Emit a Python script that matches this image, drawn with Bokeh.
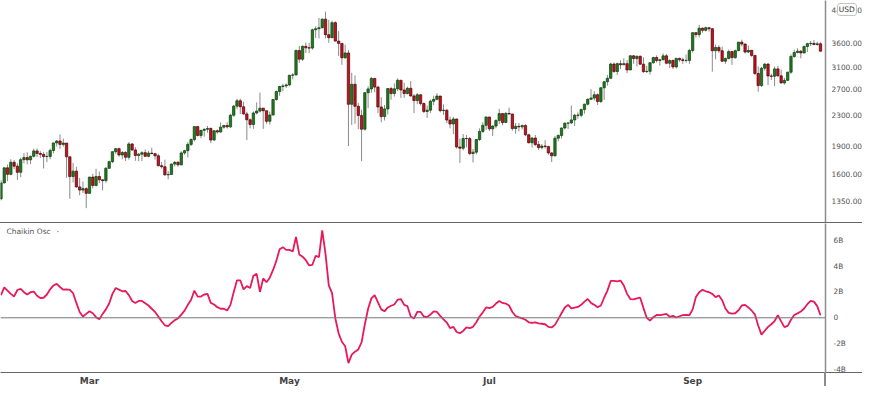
import pandas as pd
from bokeh.plotting import figure
from bokeh.layouts import column
from bokeh.models import (ColumnDataSource, FixedTicker, Span, Label, Div, Range1d,
                          PrintfTickFormatter, DatetimeTickFormatter)
from bokeh.embed import file_html
from bokeh.resources import INLINE

# ---------------- data (daily, 2021-02-02 .. 2021-10-10) ----------------
start_date = "2021-02-02"

open_ = [
    # Feb
    1369, 1512, 1660, 1594, 1718, 1677, 1614, 1746, 1768, 1744, 1783, 1843, 1814, 1804, 1779, 1781, 1848, 1937, 1960, 1919, 1935, 1777, 1572, 1626, 1475, 1446, 1459,
    # Mar
    1417, 1567, 1488, 1573, 1541, 1533, 1655, 1724, 1834, 1869, 1797, 1826, 1772, 1924, 1854, 1792, 1806, 1823, 1782, 1818, 1812, 1788, 1682, 1671, 1589, 1593, 1699, 1717, 1691, 1820, 1846,
    # Apr
    1919, 1977, 2143, 2028, 2093, 2107, 2118, 1971, 2088, 2072, 2135, 2157, 2139, 2299, 2432, 2514, 2422, 2317, 2235, 2171, 2331, 2358, 2402, 2363, 2214, 2302, 2534, 2662, 2746, 2757,
    # May
    2773, 2945, 2950, 3431, 3253, 3522, 3490, 3484, 3902, 3928, 3953, 4168, 3785, 3715, 4079, 3638, 3587, 3282, 3380, 2460, 2784, 2430, 2296, 2109, 2643, 2706, 2888, 2736, 2419, 2279, 2390,
    # Jun
    2711, 2629, 2707, 2855, 2688, 2630, 2716, 2590, 2517, 2609, 2471, 2353, 2372, 2508, 2537, 2589, 2365, 2372, 2231, 2178, 2246, 1888, 1874, 1990, 1989, 1813, 1829, 1978, 2080, 2160,
    # Jul
    2274, 2113, 2150, 2226, 2322, 2198, 2324, 2316, 2117, 2147, 2139, 2156, 2036, 1939, 1995, 1917, 1881, 1899, 1895, 1820, 1788, 1994, 2028, 2124, 2188, 2191, 2233, 2299, 2298, 2380, 2461,
    # Aug
    2537, 2557, 2610, 2502, 2724, 2828, 2890, 3157, 3013, 3164, 3141, 3164, 3043, 3322, 3265, 3310, 3154, 3011, 3017, 3183, 3287, 3225, 3241, 3320, 3172, 3225, 3101, 3268, 3240, 3227, 3228,
    # Sep
    3433, 3834, 3788, 3941, 3889, 3952, 3928, 3427, 3497, 3427, 3212, 3266, 3409, 3285, 3429, 3615, 3571, 3399, 3435, 3330, 2977, 2762, 3076, 3156, 2931, 2926, 3063, 2934, 2807, 2853,
    # Oct
    3001, 3308, 3390, 3419, 3381, 3518, 3581, 3588, 3560, 3578,
]

high = [
    1540, 1664, 1693, 1751, 1741, 1706, 1767, 1818, 1827, 1789, 1870, 1872, 1840, 1829, 1830, 1870, 1939, 1970, 2042, 1990, 1935, 1777, 1711, 1671, 1559, 1525, 1472,
    1570, 1600, 1650, 1622, 1548, 1668, 1735, 1840, 1877, 1881, 1840, 1840, 1946, 1934, 1887, 1820, 1840, 1860, 1843, 1880, 1822, 1811, 1720, 1746, 1626, 1703, 1732, 1732, 1838, 1856, 1947,
    1992, 2145, 2146, 2100, 2120, 2150, 2132, 2096, 2105, 2198, 2166, 2201, 2318, 2449, 2545, 2547, 2497, 2348, 2255, 2354, 2489, 2644, 2402, 2363, 2350, 2537, 2679, 2759, 2797, 2797,
    2950, 2985, 3455, 3531, 3541, 3605, 3600, 3930, 3985, 4200, 4185, 4365, 4150, 4130, 4115, 3870, 3587, 3560, 3440, 2990, 2940, 2480, 2380, 2650, 2750, 2910, 2890, 2760, 2570, 2450, 2720,
    2740, 2800, 2890, 2860, 2810, 2745, 2840, 2620, 2640, 2620, 2490, 2440, 2530, 2595, 2635, 2590, 2460, 2385, 2280, 2275, 2250, 1990, 2045, 2035, 2010, 1865, 1985, 2120, 2200, 2280,
    2274, 2160, 2240, 2390, 2322, 2345, 2410, 2320, 2190, 2190, 2170, 2175, 2050, 2010, 2035, 1960, 1925, 1970, 1895, 1830, 2020, 2040, 2130, 2200, 2200, 2440, 2318, 2340, 2395, 2470, 2550,
    2700, 2665, 2630, 2740, 2840, 2950, 3180, 3185, 3185, 3230, 3270, 3235, 3330, 3330, 3330, 3330, 3290, 3120, 3190, 3300, 3330, 3260, 3370, 3360, 3250, 3250, 3280, 3285, 3285, 3350, 3470,
    3840, 3840, 4025, 3960, 3980, 3970, 3945, 3560, 3545, 3515, 3290, 3450, 3420, 3450, 3620, 3670, 3590, 3540, 3445, 3330, 3110, 3100, 3170, 3170, 2970, 3110, 3120, 3050, 2900, 3010,
    3350, 3450, 3480, 3440, 3540, 3600, 3640, 3660, 3620, 3610,
]

low = [
    1356, 1506, 1528, 1584, 1647, 1540, 1566, 1707, 1696, 1700, 1769, 1774, 1763, 1653, 1719, 1750, 1816, 1893, 1865, 1891, 1560, 1370, 1516, 1467, 1400, 1421, 1293,
    1411, 1461, 1479, 1508, 1443, 1513, 1648, 1710, 1808, 1777, 1750, 1731, 1746, 1841, 1733, 1731, 1730, 1777, 1773, 1808, 1746, 1673, 1652, 1580, 1546, 1592, 1675, 1670, 1684, 1800, 1771,
    1900, 1955, 2016, 1994, 2014, 2063, 1933, 1965, 2051, 2060, 2114, 2116, 2124, 2276, 2387, 2315, 2306, 1971, 2120, 2113, 2311, 2339, 2112, 2180, 2169, 2297, 2516, 2593, 2666, 2720,
    2760, 2870, 2940, 3180, 3215, 3380, 3378, 3450, 3710, 3700, 3935, 3700, 3600, 3710, 3630, 3320, 3140, 3260, 1900, 2165, 2180, 2110, 1730, 2090, 2400, 2640, 2650, 2330, 2200, 2225, 2310,
    2530, 2580, 2670, 2560, 2560, 2615, 2580, 2330, 2460, 2440, 2330, 2260, 2330, 2445, 2520, 2340, 2305, 2190, 2120, 2045, 1870, 1710, 1850, 1885, 1795, 1716, 1805, 1960, 2060, 2100,
    2085, 2020, 2120, 2180, 2160, 2190, 2310, 2090, 2050, 2080, 2105, 2020, 1930, 1880, 1900, 1855, 1860, 1870, 1800, 1720, 1780, 1955, 1990, 2105, 2110, 2180, 2150, 2250, 2270, 2320, 2440,
    2530, 2520, 2450, 2480, 2530, 2760, 2880, 2990, 2950, 3060, 3140, 2980, 3040, 3160, 3110, 3140, 2990, 2990, 2955, 3160, 3185, 3125, 3230, 3150, 3080, 3060, 3070, 3200, 3160, 3180, 3160,
    3390, 3720, 3720, 3830, 3860, 3860, 3010, 3250, 3380, 3200, 3160, 3250, 3140, 3260, 3420, 3520, 3370, 3380, 3300, 2950, 2660, 2740, 3030, 2770, 2860, 2750, 2920, 2800, 2780, 2840,
    2970, 3280, 3370, 3270, 3370, 3400, 3530, 3550, 3540, 3410,
]

close = [
    1512, 1660, 1594, 1718, 1677, 1614, 1746, 1768, 1744, 1783, 1843, 1814, 1804, 1779, 1781, 1848, 1937, 1960, 1919, 1935, 1777, 1572, 1626, 1475, 1446, 1459, 1417,
    1567, 1488, 1573, 1541, 1533, 1655, 1724, 1834, 1869, 1797, 1826, 1772, 1924, 1854, 1792, 1806, 1823, 1782, 1818, 1812, 1788, 1682, 1671, 1589, 1593, 1699, 1717, 1691, 1820, 1846, 1919,
    1977, 2143, 2028, 2093, 2107, 2118, 1971, 2088, 2072, 2135, 2157, 2139, 2299, 2432, 2514, 2422, 2317, 2235, 2171, 2331, 2358, 2402, 2363, 2214, 2302, 2534, 2662, 2746, 2757, 2773,
    2945, 2950, 3431, 3253, 3522, 3490, 3484, 3902, 3928, 3953, 4168, 3785, 3715, 4079, 3638, 3587, 3282, 3380, 2460, 2784, 2430, 2296, 2109, 2643, 2706, 2888, 2736, 2419, 2279, 2390, 2711,
    2629, 2707, 2855, 2688, 2630, 2716, 2590, 2517, 2609, 2471, 2353, 2372, 2508, 2537, 2589, 2365, 2372, 2231, 2178, 2246, 1888, 1874, 1990, 1989, 1813, 1829, 1978, 2080, 2160, 2274,
    2113, 2150, 2226, 2322, 2198, 2324, 2316, 2117, 2147, 2139, 2156, 2036, 1939, 1995, 1917, 1881, 1899, 1895, 1820, 1788, 1994, 2028, 2124, 2188, 2191, 2233, 2299, 2298, 2380, 2461, 2537,
    2557, 2610, 2502, 2724, 2828, 2890, 3157, 3013, 3164, 3141, 3164, 3043, 3322, 3265, 3310, 3154, 3011, 3017, 3183, 3287, 3225, 3241, 3320, 3172, 3225, 3101, 3268, 3240, 3227, 3228, 3433,
    3834, 3788, 3941, 3889, 3952, 3928, 3427, 3497, 3427, 3212, 3266, 3409, 3285, 3429, 3615, 3571, 3399, 3435, 3330, 2977, 2762, 3076, 3156, 2931, 2926, 3063, 2934, 2807, 2853, 3001,
    3308, 3390, 3419, 3381, 3518, 3581, 3588, 3560, 3578, 3418,
]

# Chaikin oscillator, billions
chaikin = [
    1.75, 2.35, 2.1, 1.85, 1.65, 2.15, 2.24, 1.98, 1.8, 1.98,
    2.03, 1.7, 1.53, 1.55, 1.8, 2.2, 2.5, 2.62, 2.38, 2.17,
    2.2, 2.15, 1.9, 1.15, 0.45, 0.1, 0.3, 0.5, 0.35, 0.05,
    -0.12, 0.3, 0.65, 1.1, 1.85, 2.3, 2.18, 2.05, 2.07, 1.75,
    1.3, 1.15, 1.3, 1.3, 1.13, 0.95, 0.7, 0.45, 0.1, -0.27,
    -0.58, -0.65, -0.4, -0.18, -0.05, 0.25, 0.55, 1.0, 1.4, 2.1,
    1.64, 1.64, 1.8, 1.85, 1.15, 1.03, 0.82, 0.7, 0.7, 0.56,
    1.0, 2.0, 2.9, 2.9, 2.2, 2.45, 2.3, 3.25, 3.4, 2.0,
    3.05, 2.75, 3.1, 3.7, 4.4, 5.3, 5.46, 5.25, 5.25, 5.13,
    6.25, 4.9, 4.72, 4.45, 4.05, 4.1, 4.8, 4.69, 6.75, 4.95,
    2.5, 1.9, -0.05, -1.2, -1.85, -2.2, -3.5, -2.85, -2.62, -2.45,
    -1.9, -0.5, 0.7, 1.5, 1.75, 1.2, 0.65, 0.5, 0.8, 0.93,
    1.03, 1.4, 1.45, 1.0, 0.9, 0.1, -0.05, 0.45, 0.45, 0.1,
    0.05, 0.25, 0.5, 0.45, 0.15, -0.12, -0.37, -0.8, -0.7, -1.1,
    -1.19, -1.02, -0.75, -0.8, -0.7, -0.35, 0.1, 0.42, 0.8, 0.75,
    0.85, 1.1, 1.3, 1.15, 1.1, 0.95, 0.45, 0.14, 0.03, -0.05,
    -0.15, -0.35, -0.4, -0.36, -0.43, -0.46, -0.5, -0.7, -0.75, -0.55,
    -0.1, 0.35, 0.8, 1.0, 0.72, 0.78, 0.84, 1.0, 1.25, 1.45,
    1.15, 1.0, 0.82, 0.95, 1.55, 2.1, 2.85, 2.85, 2.82, 2.88,
    2.5, 1.85, 1.45, 1.43, 1.5, 1.55, 0.75, 0.0, -0.22, 0.05,
    0.22, 0.2, 0.25, 0.3, 0.08, 0.15, 0.02, 0.12, 0.2, 0.22,
    0.2, 0.65, 1.6, 1.98, 2.16, 2.05, 1.98, 1.85, 1.6, 1.72,
    1.36, 0.72, 0.38, 0.32, 0.35, 0.58, 0.95, 1.0, 0.8, 0.56,
    0.25, -0.6, -1.3, -1.0, -0.7, -0.5, -0.25, 0.2, -0.28, -0.72,
    -0.62, -0.15, 0.22, 0.34, 0.48, 0.72, 1.05, 1.3, 1.25, 0.9,
    0.2,
]

price_ticks = [1350, 1600, 1900, 2300, 2700, 3100, 3600, 4400]
osc_ticks = [-4, -2, 0, 2, 4, 6]
osc_labels = {-4: "-4B", -2: "-2B", 0: "0", 2: "2B", 4: "4B", 6: "6B"}
month_ticks = ["2021-03-01", "2021-05-01", "2021-07-01", "2021-09-01"]
currency = "USD"

# ---------------- build ----------------
dates = pd.date_range(start_date, periods=len(close), freq="D")
DAY = 86400000.0
t0 = dates[0].value / 1e6

up = [c >= o for o, c in zip(open_, close)]
src = ColumnDataSource(dict(
    date=dates,
    high=high, low=low,
    top=[max(o, c) for o, c in zip(open_, close)],
    bottom=[min(o, c) for o, c in zip(open_, close)],
    fill=["#1f7a1f" if u else "#c8101e" for u in up],
    edge=["#0f3d0f" if u else "#4a0508" for u in up],
))
osc_src = ColumnDataSource(dict(date=dates, osc=chaikin))

FRAME_W = 825
RIGHT = 37
TOTAL_W = FRAME_W + RIGHT
x_range = Range1d(start=t0 - 0.15 * DAY, end=t0 + 251.53 * DAY)

FONT = "DejaVu Sans"

p1 = figure(frame_width=FRAME_W, frame_height=222, x_range=x_range, y_range=Range1d(1183, 4678),
            x_axis_type="datetime", y_axis_type="log", y_axis_location="right",
            x_axis_location=None, output_backend="svg", toolbar_location=None,
            min_border_left=0, min_border_right=RIGHT, min_border_top=0, min_border_bottom=0)
p1.outline_line_color = None
p1.grid.visible = False
p1.background_fill_color = "white"
p1.border_fill_color = "white"

p1.segment(x0="date", y0="low", x1="date", y1="high", source=src,
           line_color="#8a8a8a", line_width=1)
p1.vbar(x="date", width=0.72 * DAY, top="top", bottom="bottom", source=src,
        fill_color="fill", line_color="edge", line_width=0.7)

ya = p1.yaxis[0]
ya.ticker = FixedTicker(ticks=price_ticks, minor_ticks=[])
ya.formatter = PrintfTickFormatter(format="%.2f")
ya.major_tick_line_color = None
ya.minor_tick_line_color = None
ya.major_tick_out = 0
ya.major_label_standoff = 6
ya.axis_line_color = "#8c8c8c"
ya.axis_line_width = 1.5
ya.major_label_text_font = FONT
ya.major_label_text_font_size = "7.4px"
ya.major_label_text_color = "#555555"

# separator line between the panels; it also carries the currency badge
# (lifted to the top of the price scale) and the short axis-line stubs
# that continue under the scale column
badge_html = (
    '<div style="position:absolute;left:837px;top:-219px;width:19.5px;height:13px;'
    'box-sizing:border-box;border:1px solid #c4c4c4;border-radius:3px;background:#ffffff;'
    "font-family:'DejaVu Sans';font-size:7.5px;line-height:11px;color:#333333;"
    'text-align:center;white-space:nowrap;">' + currency + '</div>'
    '<div style="position:absolute;left:825px;top:149.6px;width:37px;height:1.2px;'
    'background:#666666;"></div>'
    '<div style="position:absolute;left:824.4px;top:150px;width:1.5px;height:14px;'
    'background:#8c8c8c;"></div>'
)
sep = Div(text=badge_html, width=TOTAL_W, height=1, margin=0,
          styles={"background-color": "#666666", "overflow": "visible",
                  "position": "relative", "z-index": "10"})

p2 = figure(frame_width=FRAME_W, frame_height=149, x_range=x_range, y_range=Range1d(-4.23, 7.29),
            x_axis_type="datetime", y_axis_location="right",
            output_backend="svg", toolbar_location=None,
            min_border_left=0, min_border_right=RIGHT, min_border_top=0, min_border_bottom=14)
p2.outline_line_color = None
p2.grid.visible = False
p2.background_fill_color = "white"
p2.border_fill_color = "white"

p2.add_layout(Span(location=0, dimension="width", line_color="#777777", line_width=1))
p2.line(x="date", y="osc", source=osc_src, line_color="#e8195a", line_width=1.8)

ya2 = p2.yaxis[0]
ya2.ticker = FixedTicker(ticks=osc_ticks, minor_ticks=[])
ya2.major_label_overrides = osc_labels
ya2.major_tick_line_color = None
ya2.minor_tick_line_color = None
ya2.major_tick_out = 0
ya2.major_label_standoff = 8
ya2.axis_line_color = "#8c8c8c"
ya2.axis_line_width = 1.5
ya2.major_label_text_font = FONT
ya2.major_label_text_font_size = "7.4px"
ya2.major_label_text_color = "#555555"

xa = p2.xaxis[0]
xa.ticker = FixedTicker(ticks=[pd.Timestamp(m).value / 1e6 for m in month_ticks], minor_ticks=[])
xa.formatter = DatetimeTickFormatter(days="%b", months="%b", years="%b")
xa.major_tick_line_color = None
xa.minor_tick_line_color = None
xa.major_tick_out = 0
xa.major_label_standoff = 3
xa.axis_line_color = "#666666"
xa.axis_line_width = 1.2
xa.major_label_text_font = FONT
xa.major_label_text_font_size = "9px"
xa.major_label_text_font_style = "bold"
xa.major_label_text_color = "#444444"

p2.add_layout(Label(x=6, y=6.67, x_units="screen", y_units="data", text="Chaikin Osc",
                    text_font=FONT, text_font_size="7.5px", text_color="#555555",
                    text_baseline="middle"))
p2.add_layout(Label(x=56, y=6.67, x_units="screen", y_units="data", text="·",
                    text_font=FONT, text_font_size="9px", text_color="#e8195a",
                    text_baseline="middle"))

layout = column(p1, sep, p2, spacing=0)

open("out.html", "w").write(file_html(layout, INLINE))
